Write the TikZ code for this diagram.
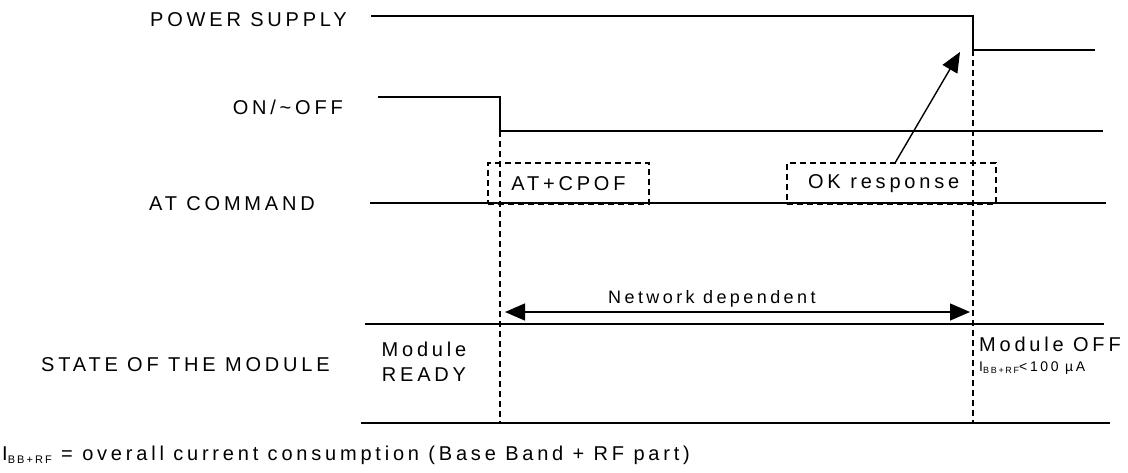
\documentclass[tikz,border=0pt]{standalone}
\usepackage{fontspec}
\setmainfont{Liberation Sans}[LetterSpace=19]
\usetikzlibrary{positioning,arrows.meta}

\begin{document}
\begin{tikzpicture}[x=1pt, y=-1pt,
      every node/.style={inner sep=0pt, font=\fontsize{20}{25}\selectfont},
      sig/.style={line width=1.4pt},
      guide/.style={line width=1.3pt, dash pattern=on 6pt off 4pt},
      cmdbox/.style={draw, line width=1.3pt, dash pattern=on 6pt off 4pt, minimum height=41pt},
      bigtip/.style={line width=1.4pt, -{Triangle[length=20pt,width=17pt]}},
      twotip/.style={line width=1.4pt, {Triangle[length=20pt,width=17pt]}-{Triangle[length=20pt,width=17pt]}}]

    \useasboundingbox (0,0) rectangle (1128,472);

    % 1. signal names
    \node[anchor=base west] (lps)  at (150,26)  {POWER SUPPLY};
    \node[anchor=base east] (lon)  at (343,114) {ON/\textasciitilde OFF};
    \node[anchor=base west] (lat)  at (149,210) {AT COMMAND};
    \node[anchor=base west] (lst)  at (41,371)  {STATE OF THE MODULE};

    % 2. signal levels
    \coordinate (ps0) at (371,16);   \coordinate (ps1) at (973,50);   \coordinate (ps2) at (1095,50);
    \coordinate (on0) at (378,97);   \coordinate (on1) at (500,131);  \coordinate (on2) at (1103,131);
    \coordinate (at0) at (370,203);  \coordinate (at1) at (1106,203);
    \coordinate (st0) at (365,324);  \coordinate (st1) at (1104,324);
    \coordinate (sb0) at (361,423);  \coordinate (sb1) at (1110,423);
    \coordinate (g0) at (500,423);   \coordinate (g1) at (973,423);

    \draw [sig] (ps0) -| (ps1) -- (ps2);
    \draw [sig] (on0) -| (on1) -- (on2);
    \draw [sig] (at0) -- (at1);
    \draw [sig] (st0) -- (st1);
    \draw [sig] (sb0) -- (sb1);

    \draw [guide] (on1) -- (g0);
    \draw [guide] (ps1) -- (g1);

    % 3. commands on the AT line
    \node[cmdbox, minimum width=161pt] (cpof) at (568.5,183.5) {AT+CPOF};
    \node[cmdbox, minimum width=209pt, text width=167pt, align=left] (okr) at (891.5,183.5) {OK\hspace{3pt} response};

    \coordinate (okfrom) at (895,163);
    \coordinate (pstip)  at (960,52);
    \draw [bigtip] (okfrom) -- (pstip);

    % 4. delay and module states
    \coordinate (nd0) at (505,312);
    \coordinate (nd1) at (970,312);
    \draw [twotip] (nd0) -- (nd1);
    \node[anchor=base west, font=\fontsize{18}{18}\selectfont] (ndl) at (608,303) {Network dependent};

    \node[align=center] (rdy) at (424,362) {Module\\READY};
    \node[anchor=base west] (off) at (979,351) {Module OFF};
    \node[anchor=base west, font=\fontsize{14}{14}\selectfont] (offi) at (979,371)
      {I\raisebox{-2pt}{\fontsize{9}{9}\selectfont BB+RF}<100 µA};

    \node[anchor=base west] (note) at (2,460)
      {I\raisebox{-3pt}{\fontsize{11}{11}\selectfont BB+RF} = overall current consumption (Base Band + RF part)};

\end{tikzpicture}
\end{document}
